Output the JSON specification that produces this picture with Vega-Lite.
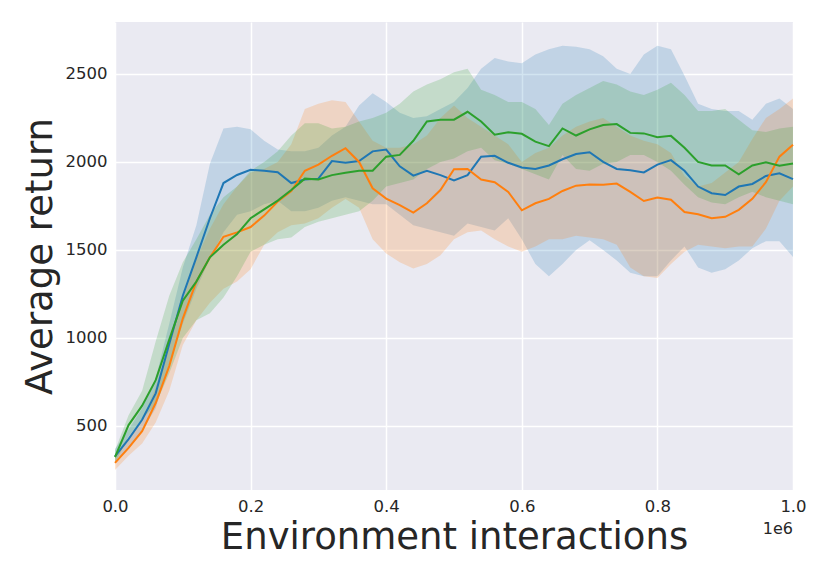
{
  "$schema": "https://vega.github.io/schema/vega-lite/v6.json",
  "width": 678,
  "height": 468,
  "autosize": {"type": "none"},
  "padding": {"left": 115, "top": 22, "right": 37, "bottom": 91},
  "background": "white",
  "datasets": {
    "runs": [
      {"run": "a", "x": 0, "mean": 327, "lo": 290, "hi": 370},
      {"run": "a", "x": 20000, "mean": 425, "lo": 370, "hi": 480},
      {"run": "a", "x": 40000, "mean": 535, "lo": 470, "hi": 600},
      {"run": "a", "x": 60000, "mean": 685, "lo": 600, "hi": 770},
      {"run": "a", "x": 80000, "mean": 965, "lo": 850, "hi": 1080},
      {"run": "a", "x": 100000, "mean": 1240, "lo": 1080, "hi": 1400},
      {"run": "a", "x": 120000, "mean": 1458, "lo": 1280, "hi": 1640},
      {"run": "a", "x": 140000, "mean": 1680, "lo": 1450, "hi": 1990},
      {"run": "a", "x": 160000, "mean": 1880, "lo": 1600, "hi": 2190},
      {"run": "a", "x": 180000, "mean": 1926, "lo": 1700, "hi": 2200},
      {"run": "a", "x": 200000, "mean": 1955, "lo": 1720, "hi": 2185},
      {"run": "a", "x": 220000, "mean": 1950, "lo": 1760, "hi": 2120},
      {"run": "a", "x": 240000, "mean": 1942, "lo": 1780, "hi": 2070},
      {"run": "a", "x": 260000, "mean": 1880, "lo": 1720, "hi": 2060},
      {"run": "a", "x": 280000, "mean": 1900, "lo": 1720, "hi": 2060},
      {"run": "a", "x": 300000, "mean": 1905, "lo": 1740, "hi": 2080},
      {"run": "a", "x": 320000, "mean": 2005, "lo": 1780, "hi": 2150},
      {"run": "a", "x": 340000, "mean": 1995, "lo": 1800, "hi": 2200},
      {"run": "a", "x": 360000, "mean": 2005, "lo": 1780, "hi": 2320},
      {"run": "a", "x": 380000, "mean": 2060, "lo": 1760, "hi": 2390},
      {"run": "a", "x": 400000, "mean": 2070, "lo": 1760, "hi": 2340},
      {"run": "a", "x": 420000, "mean": 1975, "lo": 1700, "hi": 2280},
      {"run": "a", "x": 440000, "mean": 1922, "lo": 1640, "hi": 2250},
      {"run": "a", "x": 460000, "mean": 1950, "lo": 1620, "hi": 2260},
      {"run": "a", "x": 480000, "mean": 1925, "lo": 1600, "hi": 2300},
      {"run": "a", "x": 500000, "mean": 1895, "lo": 1580, "hi": 2340},
      {"run": "a", "x": 520000, "mean": 1925, "lo": 1650, "hi": 2420},
      {"run": "a", "x": 540000, "mean": 2030, "lo": 1630, "hi": 2530},
      {"run": "a", "x": 560000, "mean": 2035, "lo": 1610, "hi": 2590},
      {"run": "a", "x": 580000, "mean": 1995, "lo": 1680, "hi": 2570},
      {"run": "a", "x": 600000, "mean": 1968, "lo": 1560, "hi": 2560},
      {"run": "a", "x": 620000, "mean": 1960, "lo": 1420, "hi": 2610},
      {"run": "a", "x": 640000, "mean": 1980, "lo": 1350, "hi": 2640},
      {"run": "a", "x": 660000, "mean": 2015, "lo": 1420, "hi": 2660},
      {"run": "a", "x": 680000, "mean": 2045, "lo": 1500, "hi": 2655},
      {"run": "a", "x": 700000, "mean": 2055, "lo": 1555, "hi": 2640},
      {"run": "a", "x": 720000, "mean": 2000, "lo": 1500, "hi": 2600},
      {"run": "a", "x": 740000, "mean": 1960, "lo": 1440, "hi": 2530},
      {"run": "a", "x": 760000, "mean": 1953, "lo": 1370, "hi": 2500},
      {"run": "a", "x": 780000, "mean": 1940, "lo": 1350, "hi": 2610},
      {"run": "a", "x": 800000, "mean": 1985, "lo": 1350, "hi": 2660},
      {"run": "a", "x": 820000, "mean": 2010, "lo": 1440, "hi": 2640},
      {"run": "a", "x": 840000, "mean": 1950, "lo": 1520, "hi": 2490},
      {"run": "a", "x": 860000, "mean": 1860, "lo": 1400, "hi": 2330},
      {"run": "a", "x": 880000, "mean": 1822, "lo": 1370, "hi": 2300},
      {"run": "a", "x": 900000, "mean": 1812, "lo": 1390, "hi": 2290},
      {"run": "a", "x": 920000, "mean": 1860, "lo": 1440, "hi": 2290},
      {"run": "a", "x": 940000, "mean": 1875, "lo": 1510, "hi": 2240},
      {"run": "a", "x": 960000, "mean": 1920, "lo": 1550, "hi": 2330},
      {"run": "a", "x": 980000, "mean": 1935, "lo": 1550, "hi": 2360},
      {"run": "a", "x": 1000000, "mean": 1902, "lo": 1460, "hi": 2300},
      {"run": "b", "x": 0, "mean": 290, "lo": 250, "hi": 330},
      {"run": "b", "x": 20000, "mean": 375, "lo": 330, "hi": 420},
      {"run": "b", "x": 40000, "mean": 470, "lo": 400, "hi": 530},
      {"run": "b", "x": 60000, "mean": 630, "lo": 520, "hi": 720},
      {"run": "b", "x": 80000, "mean": 840, "lo": 700, "hi": 960},
      {"run": "b", "x": 100000, "mean": 1110, "lo": 960, "hi": 1220},
      {"run": "b", "x": 120000, "mean": 1320, "lo": 1100, "hi": 1450},
      {"run": "b", "x": 140000, "mean": 1458, "lo": 1200, "hi": 1620},
      {"run": "b", "x": 160000, "mean": 1575, "lo": 1280, "hi": 1760},
      {"run": "b", "x": 180000, "mean": 1600, "lo": 1320, "hi": 1860},
      {"run": "b", "x": 200000, "mean": 1630, "lo": 1390, "hi": 1940},
      {"run": "b", "x": 220000, "mean": 1695, "lo": 1530, "hi": 1960},
      {"run": "b", "x": 240000, "mean": 1775, "lo": 1600, "hi": 2000},
      {"run": "b", "x": 260000, "mean": 1835, "lo": 1640, "hi": 2100},
      {"run": "b", "x": 280000, "mean": 1950, "lo": 1650, "hi": 2300},
      {"run": "b", "x": 300000, "mean": 1985, "lo": 1680, "hi": 2330},
      {"run": "b", "x": 320000, "mean": 2035, "lo": 1740, "hi": 2350},
      {"run": "b", "x": 340000, "mean": 2078, "lo": 1790, "hi": 2340},
      {"run": "b", "x": 360000, "mean": 2000, "lo": 1740, "hi": 2230},
      {"run": "b", "x": 380000, "mean": 1850, "lo": 1560, "hi": 2120},
      {"run": "b", "x": 400000, "mean": 1792, "lo": 1480, "hi": 2080},
      {"run": "b", "x": 420000, "mean": 1755, "lo": 1430, "hi": 2080},
      {"run": "b", "x": 440000, "mean": 1712, "lo": 1395, "hi": 2100},
      {"run": "b", "x": 460000, "mean": 1765, "lo": 1420, "hi": 2150},
      {"run": "b", "x": 480000, "mean": 1840, "lo": 1470, "hi": 2250},
      {"run": "b", "x": 500000, "mean": 1958, "lo": 1560, "hi": 2320},
      {"run": "b", "x": 520000, "mean": 1960, "lo": 1600, "hi": 2250},
      {"run": "b", "x": 540000, "mean": 1900, "lo": 1610, "hi": 2200},
      {"run": "b", "x": 560000, "mean": 1885, "lo": 1560, "hi": 2150},
      {"run": "b", "x": 580000, "mean": 1830, "lo": 1520, "hi": 2100},
      {"run": "b", "x": 600000, "mean": 1725, "lo": 1490, "hi": 2000},
      {"run": "b", "x": 620000, "mean": 1765, "lo": 1520, "hi": 2050},
      {"run": "b", "x": 640000, "mean": 1790, "lo": 1560, "hi": 2080},
      {"run": "b", "x": 660000, "mean": 1835, "lo": 1560, "hi": 2150},
      {"run": "b", "x": 680000, "mean": 1865, "lo": 1580, "hi": 2200},
      {"run": "b", "x": 700000, "mean": 1872, "lo": 1570, "hi": 2230},
      {"run": "b", "x": 720000, "mean": 1870, "lo": 1560, "hi": 2250},
      {"run": "b", "x": 740000, "mean": 1877, "lo": 1530, "hi": 2200},
      {"run": "b", "x": 760000, "mean": 1830, "lo": 1400, "hi": 2150},
      {"run": "b", "x": 780000, "mean": 1778, "lo": 1350, "hi": 2120},
      {"run": "b", "x": 800000, "mean": 1798, "lo": 1340, "hi": 2100},
      {"run": "b", "x": 820000, "mean": 1785, "lo": 1420, "hi": 2050},
      {"run": "b", "x": 840000, "mean": 1715, "lo": 1490, "hi": 1920},
      {"run": "b", "x": 860000, "mean": 1703, "lo": 1530, "hi": 1860},
      {"run": "b", "x": 880000, "mean": 1680, "lo": 1520, "hi": 1880},
      {"run": "b", "x": 900000, "mean": 1688, "lo": 1510, "hi": 1940},
      {"run": "b", "x": 920000, "mean": 1728, "lo": 1520, "hi": 2000},
      {"run": "b", "x": 940000, "mean": 1790, "lo": 1520, "hi": 2130},
      {"run": "b", "x": 960000, "mean": 1885, "lo": 1620, "hi": 2250},
      {"run": "b", "x": 980000, "mean": 2030, "lo": 1780, "hi": 2300},
      {"run": "b", "x": 1000000, "mean": 2098, "lo": 1860, "hi": 2360},
      {"run": "c", "x": 0, "mean": 323, "lo": 290, "hi": 360},
      {"run": "c", "x": 20000, "mean": 505, "lo": 440, "hi": 560},
      {"run": "c", "x": 40000, "mean": 615, "lo": 540, "hi": 700},
      {"run": "c", "x": 60000, "mean": 760, "lo": 620, "hi": 980},
      {"run": "c", "x": 80000, "mean": 990, "lo": 800, "hi": 1240},
      {"run": "c", "x": 100000, "mean": 1212, "lo": 1000, "hi": 1430},
      {"run": "c", "x": 120000, "mean": 1320, "lo": 1100, "hi": 1560},
      {"run": "c", "x": 140000, "mean": 1458, "lo": 1140, "hi": 1700},
      {"run": "c", "x": 160000, "mean": 1530, "lo": 1230, "hi": 1800},
      {"run": "c", "x": 180000, "mean": 1590, "lo": 1350, "hi": 1860},
      {"run": "c", "x": 200000, "mean": 1680, "lo": 1490, "hi": 1950},
      {"run": "c", "x": 220000, "mean": 1730, "lo": 1530, "hi": 2000},
      {"run": "c", "x": 240000, "mean": 1780, "lo": 1560, "hi": 2060},
      {"run": "c", "x": 260000, "mean": 1840, "lo": 1570, "hi": 2150},
      {"run": "c", "x": 280000, "mean": 1905, "lo": 1630, "hi": 2220},
      {"run": "c", "x": 300000, "mean": 1900, "lo": 1660, "hi": 2220},
      {"run": "c", "x": 320000, "mean": 1925, "lo": 1680, "hi": 2190},
      {"run": "c", "x": 340000, "mean": 1938, "lo": 1700, "hi": 2200},
      {"run": "c", "x": 360000, "mean": 1950, "lo": 1720, "hi": 2230},
      {"run": "c", "x": 380000, "mean": 1950, "lo": 1780, "hi": 2250},
      {"run": "c", "x": 400000, "mean": 2030, "lo": 1860, "hi": 2280},
      {"run": "c", "x": 420000, "mean": 2040, "lo": 1880, "hi": 2330},
      {"run": "c", "x": 440000, "mean": 2120, "lo": 1900, "hi": 2400},
      {"run": "c", "x": 460000, "mean": 2230, "lo": 1960, "hi": 2440},
      {"run": "c", "x": 480000, "mean": 2240, "lo": 2000, "hi": 2470},
      {"run": "c", "x": 500000, "mean": 2240, "lo": 2020, "hi": 2510},
      {"run": "c", "x": 520000, "mean": 2285, "lo": 2060, "hi": 2530},
      {"run": "c", "x": 540000, "mean": 2230, "lo": 2080, "hi": 2410},
      {"run": "c", "x": 560000, "mean": 2155, "lo": 2010, "hi": 2380},
      {"run": "c", "x": 580000, "mean": 2168, "lo": 1990, "hi": 2340},
      {"run": "c", "x": 600000, "mean": 2160, "lo": 1960, "hi": 2340},
      {"run": "c", "x": 620000, "mean": 2115, "lo": 1930, "hi": 2300},
      {"run": "c", "x": 640000, "mean": 2090, "lo": 1900, "hi": 2210},
      {"run": "c", "x": 660000, "mean": 2190, "lo": 2040, "hi": 2330},
      {"run": "c", "x": 680000, "mean": 2150, "lo": 1960, "hi": 2380},
      {"run": "c", "x": 700000, "mean": 2185, "lo": 1950, "hi": 2420},
      {"run": "c", "x": 720000, "mean": 2210, "lo": 1990, "hi": 2460},
      {"run": "c", "x": 740000, "mean": 2215, "lo": 2000, "hi": 2440},
      {"run": "c", "x": 760000, "mean": 2165, "lo": 2040, "hi": 2400},
      {"run": "c", "x": 780000, "mean": 2162, "lo": 2040, "hi": 2380},
      {"run": "c", "x": 800000, "mean": 2140, "lo": 2000, "hi": 2410},
      {"run": "c", "x": 820000, "mean": 2148, "lo": 1950, "hi": 2450},
      {"run": "c", "x": 840000, "mean": 2080, "lo": 1870, "hi": 2380},
      {"run": "c", "x": 860000, "mean": 2000, "lo": 1800, "hi": 2290},
      {"run": "c", "x": 880000, "mean": 1980, "lo": 1770, "hi": 2290},
      {"run": "c", "x": 900000, "mean": 1980, "lo": 1760, "hi": 2300},
      {"run": "c", "x": 920000, "mean": 1930, "lo": 1800, "hi": 2240},
      {"run": "c", "x": 940000, "mean": 1980, "lo": 1830, "hi": 2180},
      {"run": "c", "x": 960000, "mean": 1998, "lo": 1800, "hi": 2170},
      {"run": "c", "x": 980000, "mean": 1978, "lo": 1780, "hi": 2190},
      {"run": "c", "x": 1000000, "mean": 1991, "lo": 1760, "hi": 2200}
    ]
  },
  "layer": [
    {
      "data": {"name": "runs"},
      "mark": {"type": "area", "opacity": 0.2},
      "encoding": {
        "x": {
          "field": "x",
          "type": "quantitative",
          "scale": {"domain": [0, 1000000], "nice": false, "zero": false},
          "axis": {
            "title": "Environment interactions",
            "values": [0, 200000, 400000, 600000, 800000, 1000000],
            "labelExpr": "format(datum.value / 1000000, '.1f')",
            "titlePadding": 5
          }
        },
        "y": {
          "field": "lo",
          "type": "quantitative",
          "scale": {"domain": [136, 2795], "nice": false, "zero": false},
          "axis": {
            "title": "Average return",
            "values": [500, 1000, 1500, 2000, 2500],
            "format": "d",
            "titlePadding": 6
          }
        },
        "y2": {"field": "hi"},
        "color": {
          "field": "run",
          "type": "nominal",
          "scale": {"domain": ["a", "b", "c"], "range": ["#1f77b4", "#ff7f0e", "#2ca02c"]},
          "legend": null
        }
      }
    },
    {
      "data": {"name": "runs"},
      "mark": {"type": "line", "strokeWidth": 2},
      "encoding": {
        "x": {"field": "x", "type": "quantitative"},
        "y": {"field": "mean", "type": "quantitative"},
        "color": {"field": "run", "type": "nominal"}
      }
    },
    {
      "data": {"values": [{"label": "1e6"}]},
      "mark": {"type": "text", "align": "right", "baseline": "middle", "fontSize": 16, "font": "DejaVu Sans", "color": "#262626"},
      "encoding": {
        "x": {"datum": 1000000},
        "y": {"datum": -86},
        "text": {"field": "label"}
      }
    }
  ],
  "config": {
    "view": {"fill": "#EAEAF2", "stroke": null},
    "font": "DejaVu Sans",
    "axis": {
      "domain": false,
      "ticks": false,
      "grid": true,
      "gridColor": "white",
      "gridWidth": 1.5,
      "labelFont": "DejaVu Sans",
      "labelFontSize": 16.5,
      "labelColor": "#262626",
      "labelPadding": 8,
      "labelFlush": false,
      "labelOverlap": false,
      "titleFont": "DejaVu Sans",
      "titleFontSize": 37,
      "titleFontWeight": "normal",
      "titleColor": "#262626"
    }
  }
}
